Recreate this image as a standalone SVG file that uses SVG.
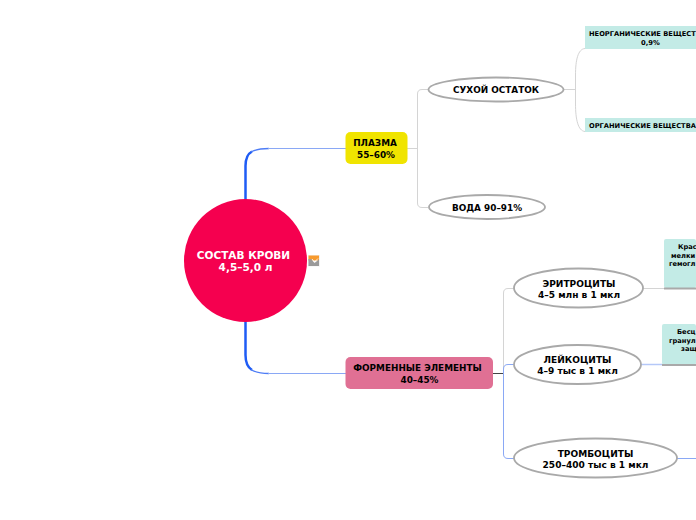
<svg xmlns="http://www.w3.org/2000/svg" width="696" height="520" viewBox="0 0 696 520">
<style>
text{font-family:"DejaVu Sans",sans-serif;font-weight:700;fill:#000;text-anchor:middle}
.c{fill:none}
.g{stroke:#d4d4d4;stroke-width:1}
.b{stroke:#8aa8f5;stroke-width:1}
.oval{fill:#fff;stroke:#a9a9a9;stroke-width:1.800}
.t{fill:#c3ebe6}
.bar{fill:#a9a9a9}
.m{font-size:8.9px}
.n{font-size:9.05px}
.s{font-size:6.8px}
.x{font-size:6.7px;text-anchor:start}
</style>
<rect width="696" height="520" fill="#fff"/>
<g id="connectors">
<path class="c" d="M245.500 200V166Q245.500 155 252 151.500" stroke="#1f5cf5" stroke-width="2.500"/>
<path class="c" d="M251 152Q257 148.500 269 148.500" stroke="#4d7cf6" stroke-width="1.300"/>
<path class="c b" d="M268 148.500H346"/>
<path class="c" d="M245.500 321V355Q245.500 366 252 370" stroke="#1f5cf5" stroke-width="2.500"/>
<path class="c" d="M251 369.500Q257 373.500 269 373.500" stroke="#4d7cf6" stroke-width="1.300"/>
<path class="c b" d="M268 373.500H346"/>
<path class="c g" d="M407 148.500H417.500M428 89.500H422Q417.500 89.500 417.500 94V203Q417.500 207.500 422 207.500H428"/>
<path class="c g" d="M564 89.500H575.500M585 48.500C578 49 575.500 60 575.500 75V104C575.500 119 578 131 585 131.500"/>
<path class="c" d="M493 373.500H503.500" stroke="#444" stroke-width="1"/>
<path class="c g" d="M503.500 373V293Q503.500 288.500 508 288.500H514"/>
<path class="c b" d="M503.500 373V369Q503.500 364.500 508 364.500H514M503.500 373V454Q503.500 458.500 508 458.500H514"/>
<path class="c g" d="M643 288.500H665"/>
<path class="c" d="M641 364.500H662" stroke="#b5c8f8" stroke-width="1.500"/>
<path class="c b" d="M677 458.500H696"/>
</g>
<g id="root">
<circle cx="245.500" cy="260.500" r="61.500" fill="#f5004f"/>
<text x="243.500" y="259" font-size="10.500" style="fill:#fff">СОСТАВ КРОВИ</text>
<text x="245.500" y="271" font-size="10.500" style="fill:#fff">4,5–5,0 л</text>
</g>
<g id="icon">
<rect x="308" y="255" width="12" height="11.500" fill="#f2f2f2"/>
<rect x="308.500" y="255.500" width="10.500" height="5" fill="#f79a2e"/>
<path d="M308.500 259H311L314.500 263L319 259.500V266H308.500Z" fill="#9a9a9a"/>
<path d="M312 259L314.500 262L318 258.500" fill="none" stroke="#fff" stroke-width="0.800"/>
</g>
<g id="plasma">
<rect x="345.500" y="132" width="62" height="32" rx="5" fill="#f0e400"/>
<text class="m" x="375" y="146">ПЛАЗМА</text>
<text class="m" x="376" y="157.500">55–60%</text>
</g>
<g id="formed">
<rect x="345.500" y="357" width="147.500" height="32" rx="5" fill="#e07094"/>
<text class="m" x="417.500" y="371">ФОРМЕННЫЕ ЭЛЕМЕНТЫ</text>
<text class="m" x="419.500" y="382.500">40–45%</text>
</g>
<g id="dry">
<ellipse class="oval" cx="496" cy="89.500" rx="67.500" ry="12"/>
<text class="m" x="496" y="93">СУХОЙ ОСТАТОК</text>
</g>
<g id="water">
<ellipse class="oval" cx="487" cy="207" rx="58" ry="12"/>
<text class="m" x="487" y="211">ВОДА 90–91%</text>
</g>
<g id="inorganic">
<rect class="t" x="585" y="26" width="111" height="23"/>
<text class="x" x="589" y="35.500">НЕОРГАНИЧЕСКИЕ ВЕЩЕСТ</text>
<text class="s" x="650.500" y="44.500">0,9%</text>
</g>
<g id="organic">
<rect class="t" x="585" y="118" width="111" height="14"/>
<text class="x" x="589" y="127.500">ОРГАНИЧЕСКИЕ ВЕЩЕСТВА</text>
</g>
<g id="erythrocytes">
<ellipse class="oval" cx="578.500" cy="288" rx="64.500" ry="19.500"/>
<text class="n" x="579" y="286.500">ЭРИТРОЦИТЫ</text>
<text class="n" x="579" y="297.500">4–5 млн в 1 мкл</text>
</g>
<g id="leukocytes">
<ellipse class="oval" cx="577.500" cy="364.500" rx="63.500" ry="19.500"/>
<text class="n" x="577.500" y="363">ЛЕЙКОЦИТЫ</text>
<text class="n" x="577.500" y="374">4–9 тыс в 1 мкл</text>
</g>
<g id="platelets">
<ellipse class="oval" cx="595.500" cy="458" rx="81.500" ry="19.500"/>
<text class="n" x="595.500" y="456.500">ТРОМБОЦИТЫ</text>
<text class="n" x="595.500" y="467.500">250–400 тыс в 1 мкл</text>
</g>
<g id="erythro-note">
<rect class="t" x="664" y="239" width="32" height="49" rx="2"/>
<rect class="bar" x="664" y="287.500" width="32" height="2"/>
<text class="x" x="678" y="249">Крас</text>
<text class="x" x="671" y="257.500">мелки</text>
<text class="x" x="669" y="266">гемогл</text>
</g>
<g id="leuko-note">
<rect class="t" x="662" y="324" width="34" height="41" rx="2"/>
<rect class="bar" x="662" y="364" width="34" height="2"/>
<text class="x" x="677" y="334">Бесц</text>
<text class="x" x="669" y="342.500">гранул</text>
<text class="x" x="681" y="351">защ</text>
</g>
</svg>
